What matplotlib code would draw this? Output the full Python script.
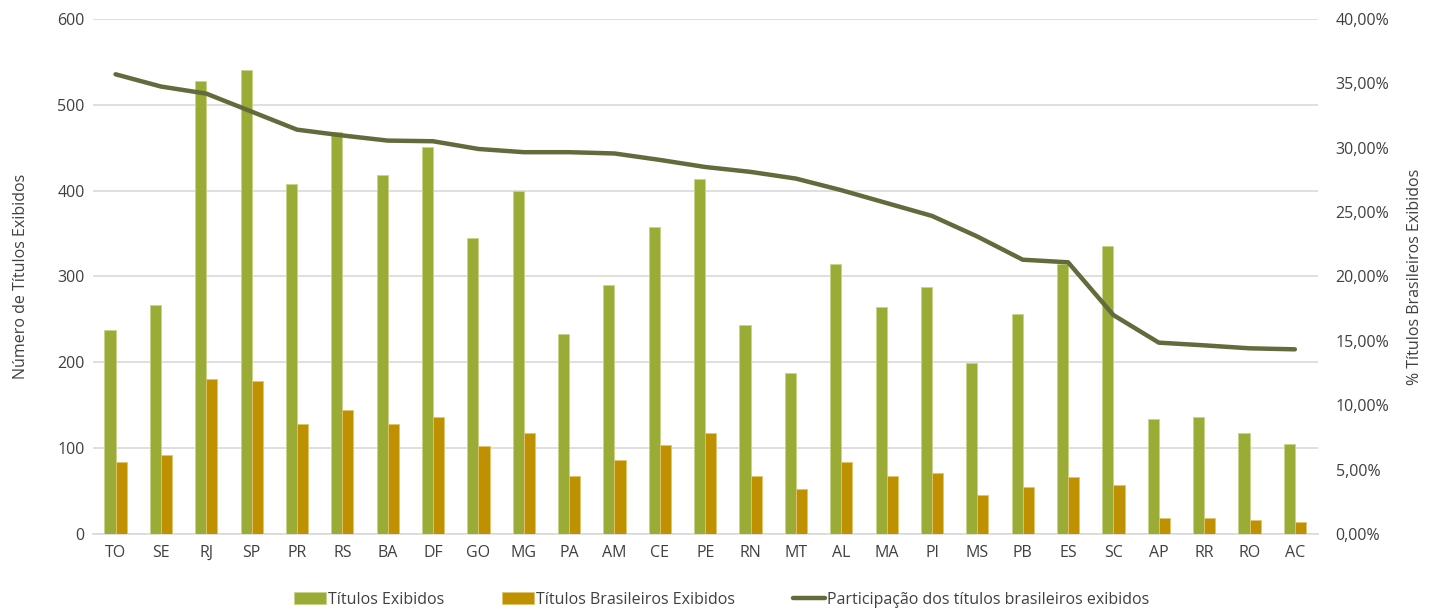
import numpy as np
import matplotlib.pyplot as plt
from matplotlib.ticker import FuncFormatter

plt.rcParams['font.family'] = ['Open Sans', 'DejaVu Sans']

# Títulos exibidos por UF (ordenado pela participação brasileira)
ufs = ["TO", "SE", "RJ", "SP", "PR", "RS", "BA", "DF", "GO", "MG", "PA", "AM", "CE", "PE",
       "RN", "MT", "AL", "MA", "PI", "MS", "PB", "ES", "SC", "AP", "RR", "RO", "AC"]
titulos = [238, 267, 528, 541, 408, 468, 418, 451, 345, 399, 233, 290, 358, 413,
           244, 188, 314, 264, 288, 199, 256, 315, 335, 134, 136, 118, 105]
titulos_br = [84, 92, 181, 178, 128, 144, 128, 136, 102, 118, 68, 86, 104, 118,
              68, 52, 84, 68, 71, 45, 55, 66, 57, 19, 19, 16, 14]
participacao = [35.7, 34.75, 34.2, 32.8, 31.4, 30.95, 30.55, 30.5, 29.9, 29.65, 29.65, 29.55,
                29.05, 28.5, 28.12, 27.6, 26.7, 25.7, 24.7, 23.1, 21.3, 21.1, 17.0,
                14.86, 14.65, 14.42, 14.34]

verde = "#9AAB36"
dourado = "#BF9000"
linha = "#616B3B"
texto = "#404040"

fig = plt.figure(figsize=(14.29, 6.10), dpi=100)
ax = fig.add_axes([0.065, 0.1246, 0.857, 0.8444])
ax2 = ax.twinx()

x = np.arange(len(ufs))
w = 0.245
b1 = ax.bar(x - w / 2, titulos, w, color=verde, edgecolor="#C9D38A", linewidth=0.6,
            label="Títulos Exibidos", zorder=3)
b2 = ax.bar(x + w / 2, titulos_br, w, color=dourado, edgecolor="#E0C470", linewidth=0.6,
            label="Títulos Brasileiros Exibidos", zorder=3)
l1, = ax2.plot(x, participacao, color=linha, lw=3.2, solid_capstyle="round",
               label="Participação dos títulos brasileiros exibidos", zorder=4)

ax.set_xlim(-0.5, len(ufs) - 0.5)
ax.set_ylim(0, 600)
ax.set_yticks(range(0, 601, 100))
ax2.set_ylim(0, 40)
ax2.set_yticks(np.arange(0, 40.1, 5))
ax2.yaxis.set_major_formatter(FuncFormatter(lambda v, p: f"{v:.2f}%".replace(".", ",")))

ax.set_xticks(x)
ax.set_xticklabels(ufs)
ax.grid(axis="y", color="#D9D9D9", lw=1.2, zorder=0)
ax.set_axisbelow(True)

for a in (ax, ax2):
    for s in a.spines.values():
        s.set_visible(False)
    a.tick_params(length=0, labelsize=11.5, colors=texto)
ax.spines["bottom"].set_visible(True)
ax.spines["bottom"].set_color("#D9D9D9")
ax.spines["bottom"].set_linewidth(1.2)
ax.tick_params(axis="y", pad=6)
ax.tick_params(axis="x", pad=8)
ax2.tick_params(axis="y", pad=13)

ax.set_ylabel("Número de Títulos Exibidos", fontsize=11.5, color=texto)
ax.yaxis.set_label_coords(-0.052, 0.5)
ax2.set_ylabel("% Títulos Brasileiros Exibidos", fontsize=11.5, color=texto)
ax2.yaxis.set_label_coords(1.073, 0.5)

fig.legend(handles=[b1, b2, l1], loc="center", bbox_to_anchor=(0.505, 0.017), ncol=3,
           frameon=False, fontsize=11.5, handlelength=2.0, handleheight=0.75,
           columnspacing=3.6, handletextpad=0.15, labelcolor=texto)

fig.savefig("out.png", dpi=100)
